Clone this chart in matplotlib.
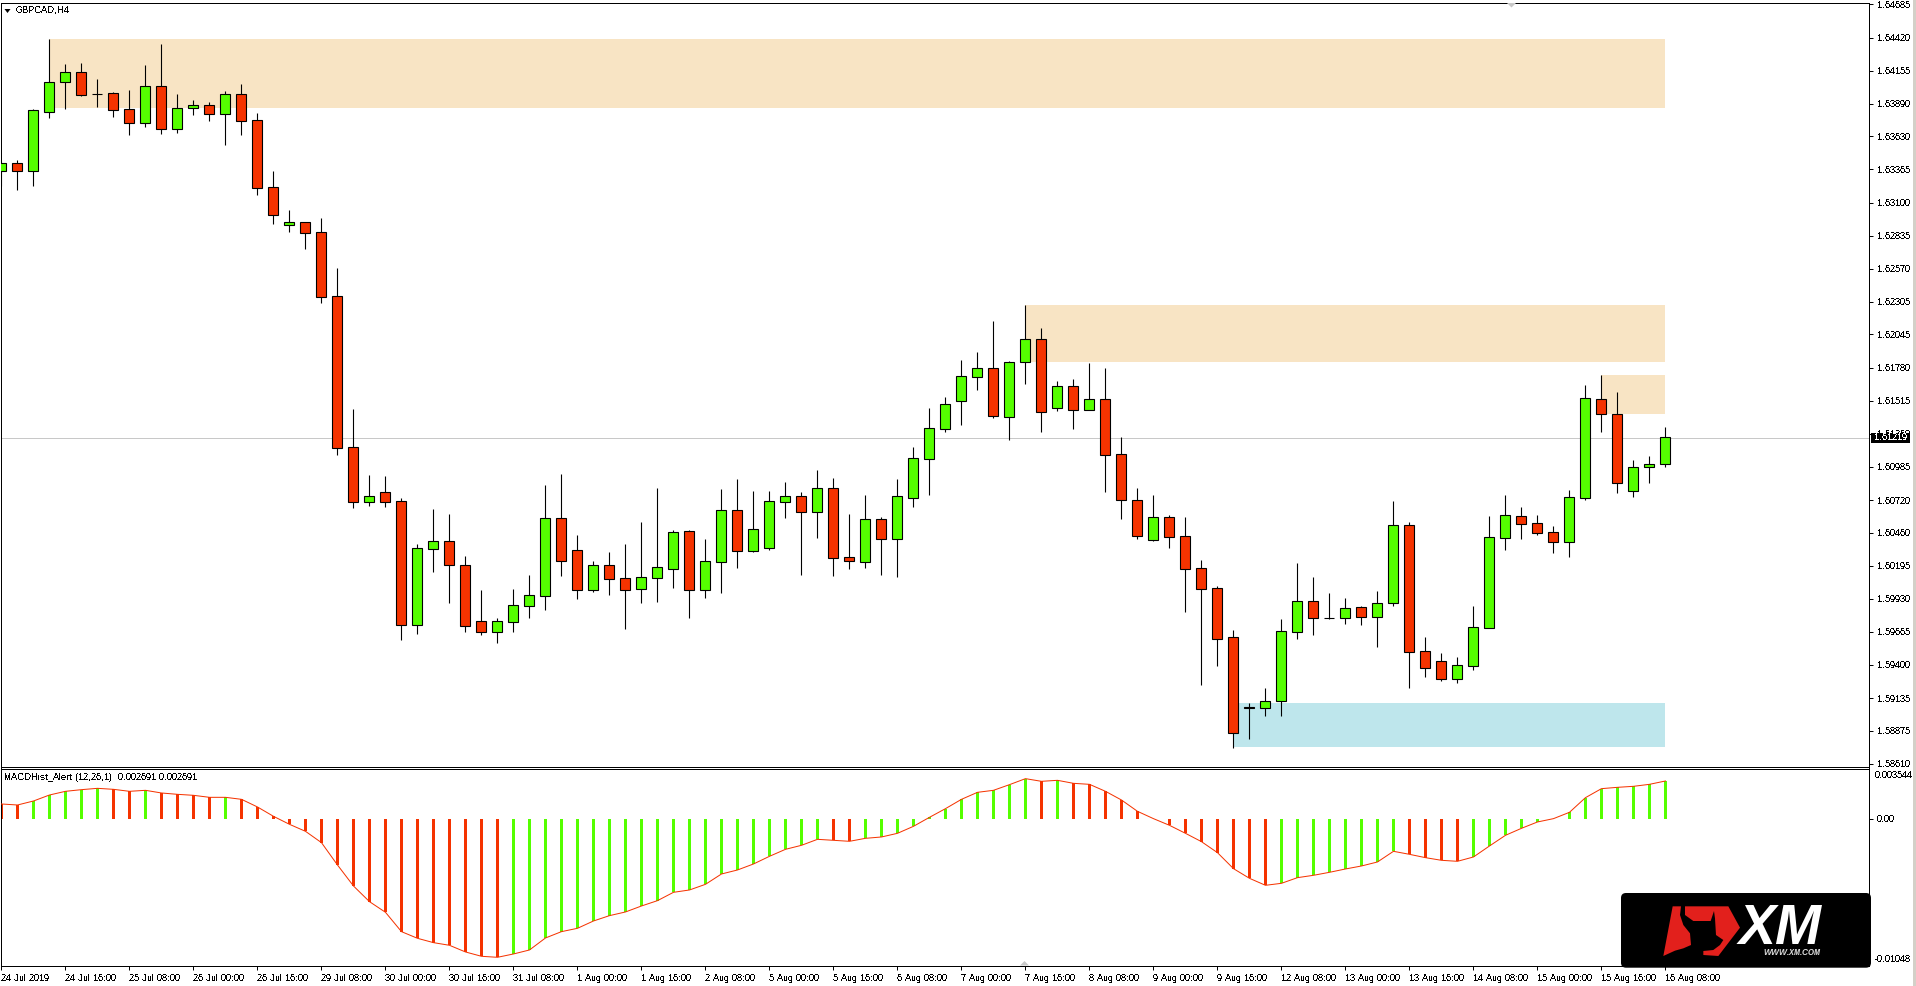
import matplotlib
matplotlib.use('Agg')
import matplotlib.pyplot as plt
from matplotlib.patches import Rectangle, FancyBboxPatch, Polygon

plt.rcParams['font.family'] = ['Liberation Sans', 'DejaVu Sans']
plt.rcParams['text.antialiased'] = False
plt.rcParams['text.hinting'] = 'native'
plt.rcParams['text.hinting_factor'] = 1

# GBPCAD H4 candles
opens = [1.63355, 1.63419, 1.63355, 1.63827, 1.64061, 1.64141, 1.63971, 1.63973, 1.63845, 1.63739,
         1.64029, 1.63691, 1.63859, 1.63877, 1.63811, 1.63965, 1.63757, 1.63221, 1.62922, 1.62941,
         1.62861, 1.62349, 1.61141, 1.60701, 1.60781, 1.60709, 1.59722, 1.60331, 1.60389, 1.60197,
         1.59749, 1.59666, 1.59746, 1.59874, 1.59954, 1.60573, 1.60317, 1.60002, 1.60197, 1.60093,
         1.60010, 1.60098, 1.60170, 1.60469, 1.60002, 1.60227, 1.60637, 1.60315, 1.60339, 1.60707,
         1.60749, 1.60627, 1.60813, 1.60261, 1.60227, 1.60565, 1.60411, 1.60739, 1.61051, 1.61291,
         1.61515, 1.61707, 1.61773, 1.61387, 1.61821, 1.62005, 1.61459, 1.61629, 1.61443, 1.61525,
         1.61085, 1.60717, 1.60402, 1.60581, 1.60429, 1.60173, 1.60013, 1.59621, 1.59061, 1.59058,
         1.59114, 1.59666, 1.59909, 1.59780, 1.59778, 1.59861, 1.59786, 1.59898, 1.60517, 1.59509,
         1.59429, 1.59290, 1.59394, 1.59698, 1.60418, 1.60589, 1.60533, 1.60461, 1.60381, 1.60733,
         1.61525, 1.61405, 1.60789, 1.60987, 1.61005]
highs = [1.63432, 1.63440, 1.63848, 1.64408, 1.64208, 1.64216, 1.64088, 1.63981, 1.64000, 1.64200,
         1.64368, 1.63968, 1.63920, 1.63901, 1.63992, 1.64048, 1.63816, 1.63352, 1.63040, 1.62941,
         1.62976, 1.62576, 1.61448, 1.60920, 1.60912, 1.60733, 1.60365, 1.60648, 1.60608, 1.60272,
         1.60000, 1.59773, 1.60008, 1.60120, 1.60840, 1.60928, 1.60440, 1.60229, 1.60304, 1.60368,
         1.60544, 1.60816, 1.60480, 1.60480, 1.60408, 1.60808, 1.60888, 1.60792, 1.60792, 1.60864,
         1.60784, 1.60960, 1.60896, 1.60608, 1.60760, 1.60584, 1.60888, 1.61144, 1.61456, 1.61544,
         1.61840, 1.61904, 1.62152, 1.61832, 1.62280, 1.62096, 1.61672, 1.61688, 1.61816, 1.61776,
         1.61224, 1.60816, 1.60760, 1.60600, 1.60584, 1.60240, 1.60032, 1.59680, 1.59096, 1.59216,
         1.59768, 1.60216, 1.60104, 1.59976, 1.59936, 1.59872, 1.59992, 1.60712, 1.60541, 1.59624,
         1.59496, 1.59464, 1.59872, 1.60592, 1.60760, 1.60664, 1.60600, 1.60512, 1.60800, 1.61640,
         1.61720, 1.61584, 1.61040, 1.61072, 1.61304]
lows = [1.63234, 1.63200, 1.63234, 1.63779, 1.63851, 1.63952, 1.63867, 1.63787, 1.63643, 1.63707,
        1.63651, 1.63659, 1.63803, 1.63755, 1.63563, 1.63643, 1.63162, 1.62930, 1.62866, 1.62730,
        1.62298, 1.61080, 1.60659, 1.60675, 1.60667, 1.59602, 1.59650, 1.60147, 1.59898, 1.59666,
        1.59642, 1.59578, 1.59666, 1.59778, 1.59842, 1.60114, 1.59928, 1.59986, 1.59960, 1.59690,
        1.59898, 1.59906, 1.60016, 1.59778, 1.59938, 1.59978, 1.60179, 1.60307, 1.60323, 1.60579,
        1.60122, 1.60419, 1.60114, 1.60170, 1.60179, 1.60122, 1.60106, 1.60667, 1.60760, 1.61267,
        1.61323, 1.61603, 1.61379, 1.61203, 1.61651, 1.61267, 1.61435, 1.61291, 1.61443, 1.60786,
        1.60570, 1.60410, 1.60394, 1.60338, 1.59826, 1.59242, 1.59392, 1.58738, 1.58810, 1.58994,
        1.58994, 1.59610, 1.59642, 1.59770, 1.59730, 1.59722, 1.59546, 1.59874, 1.59218, 1.59306,
        1.59274, 1.59258, 1.59362, 1.59698, 1.60322, 1.60410, 1.60442, 1.60298, 1.60266, 1.60720,
        1.61267, 1.60779, 1.60747, 1.60859, 1.60987]
closes = [1.63413, 1.63355, 1.63837, 1.64061, 1.64141, 1.63963, 1.63965, 1.63843, 1.63739, 1.64029,
          1.63691, 1.63853, 1.63877, 1.63811, 1.63965, 1.63755, 1.63218, 1.63003, 1.62941, 1.62858,
          1.62346, 1.61133, 1.60701, 1.60749, 1.60707, 1.59722, 1.60333, 1.60389, 1.60203, 1.59714,
          1.59666, 1.59749, 1.59877, 1.59957, 1.60573, 1.60235, 1.60002, 1.60197, 1.60090, 1.60002,
          1.60101, 1.60181, 1.60461, 1.60002, 1.60229, 1.60637, 1.60315, 1.60485, 1.60709, 1.60749,
          1.60627, 1.60813, 1.60259, 1.60235, 1.60565, 1.60411, 1.60749, 1.61053, 1.61293, 1.61485,
          1.61709, 1.61773, 1.61395, 1.61821, 1.62005, 1.61427, 1.61629, 1.61443, 1.61525, 1.61082,
          1.60722, 1.60434, 1.60581, 1.60426, 1.60170, 1.60010, 1.59610, 1.58858, 1.59056, 1.59109,
          1.59669, 1.59909, 1.59778, 1.59780, 1.59853, 1.59786, 1.59893, 1.60517, 1.59506, 1.59378,
          1.59290, 1.59397, 1.59701, 1.60421, 1.60597, 1.60525, 1.60458, 1.60381, 1.60741, 1.61533,
          1.61405, 1.60853, 1.60987, 1.61005, 1.61221]

# MACDHist_Alert values and bar colours
hist = [0.001062, 0.000991, 0.001274, 0.001699, 0.001959, 0.002077, 0.002171, 0.002100, 0.001959, 0.002030,
        0.001841, 0.001746, 0.001676, 0.001534, 0.001534, 0.001392, 0.000850, 0.000189, -0.000378, -0.000873,
        -0.001676, -0.003257, -0.004744, -0.005853, -0.006608, -0.007977, -0.008449, -0.008756, -0.008944, -0.009416,
        -0.009723, -0.009794, -0.009558, -0.009275, -0.008425, -0.007977, -0.007741, -0.007222, -0.006844, -0.006584,
        -0.006160, -0.005782, -0.005192, -0.005027, -0.004626, -0.003894, -0.003611, -0.003186, -0.002643, -0.002148,
        -0.001864, -0.001440, -0.001510, -0.001581, -0.001369, -0.001274, -0.001015, -0.000519, 0.000118, 0.000732,
        0.001392, 0.001888, 0.002030, 0.002431, 0.002856, 0.002667, 0.002738, 0.002525, 0.002454, 0.001959,
        0.001345, 0.000543, 0.000024, -0.000448, -0.001015, -0.001605, -0.002384, -0.003516, -0.004201, -0.004696,
        -0.004555, -0.004154, -0.003988, -0.003776, -0.003540, -0.003328, -0.003044, -0.002289, -0.002502, -0.002738,
        -0.002926, -0.002997, -0.002690, -0.001912, -0.001156, -0.000661, -0.000212, 0.000024, 0.000472, 0.001510,
        0.002148, 0.002242, 0.002313, 0.002454, 0.002691]
hist_kind = ('rrgggggrrg' 'rrrrgrrrrr' 'rrrrrrrrrr' 'rrgggggggg' 'gggggggggg'
             'ggrrgggggg' 'gggggrgrrr' 'rrrrrrrrrr' 'ggggggggrr' 'rrgggggggg' 'ggggg')

# shaded zones, by first candle
zone_start = [3, 64, 100, 77]
zone_top = [1.64408, 1.62280, 1.61720, 1.59096]
zone_bottom = [1.63856, 1.61824, 1.61411, 1.58746]
zone_color = ['#F8E4C4', '#F8E4C4', '#F8E4C4', '#BEE6EC']

price_ticks = [1.64685, 1.64420, 1.64155, 1.63890, 1.63630, 1.63365, 1.63100, 1.62835, 1.62570, 1.62305,
               1.62045, 1.61780, 1.61515, 1.61250, 1.60985, 1.60720, 1.60460, 1.60195, 1.59930, 1.59665,
               1.59400, 1.59135, 1.58875, 1.58610]
last_price = 1.61219

date_labels = ['24 Jul 2019', '24 Jul 16:00', '25 Jul 08:00', '26 Jul 00:00', '26 Jul 16:00', '29 Jul 08:00',
               '30 Jul 00:00', '30 Jul 16:00', '31 Jul 08:00', '1 Aug 00:00', '1 Aug 16:00', '2 Aug 08:00',
               '5 Aug 00:00', '5 Aug 16:00', '6 Aug 08:00', '7 Aug 00:00', '7 Aug 16:00', '8 Aug 08:00',
               '9 Aug 00:00', '9 Aug 16:00', '12 Aug 08:00', '13 Aug 00:00', '13 Aug 16:00', '14 Aug 08:00',
               '15 Aug 00:00', '15 Aug 16:00', '16 Aug 08:00']

RED = '#F53300'
GREEN = '#55FF00'
W, H = 1916, 986
FS = 6.5
PX = 0.72  # one pixel in points at dpi 100


def pixel_axes(left, top, right, bottom):
    return fig.add_axes([left / W, 1 - bottom / H, (right - left) / W, (bottom - top) / H])


fig = plt.figure(figsize=(W / 100, H / 100), dpi=100, facecolor='white')
x = list(range(len(opens)))
xlim = (-0.0625, 116.69)

# price panel
ax = pixel_axes(0.5, 2.5, 1868.5, 766.5)
for s, t, b, c in zip(zone_start, zone_top, zone_bottom, zone_color):
    ax.add_patch(Rectangle((s, b), x[-1] - s, t - b, facecolor=c, edgecolor='none', zorder=1))
ax.axhline(last_price, color='#C8C8C8', lw=PX, zorder=1.5)
ax.vlines(x, lows, highs, color='black', lw=PX * 1.1, zorder=2)
body_bottom = [min(o, c) for o, c in zip(opens, closes)]
body_height = [abs(o - c) for o, c in zip(opens, closes)]
body_color = [GREEN if c >= o else RED for o, c in zip(opens, closes)]
ax.bar(x, body_height, bottom=body_bottom, width=0.625, color=body_color,
       edgecolor='black', linewidth=PX * 1.1, zorder=3)
ax.set_xlim(xlim)
ax.set_ylim(1.58588, 1.64700)
ax.set_xticks([])
ax.yaxis.tick_right()
ax.set_yticks(price_ticks)
ax.set_yticklabels(['%.5f' % p for p in price_ticks])
ax.tick_params(axis='y', length=3, width=PX, pad=3, labelsize=FS)

# indicator panel
ax2 = pixel_axes(0.5, 768.5, 1868.5, 966)
hist_colors = [GREEN if k == 'g' else RED for k in hist_kind]
ax2.bar(x, hist, width=3 / 16, color=hist_colors, linewidth=0, zorder=2)
ax2.plot(x, hist, color=RED, lw=PX, zorder=3)
ax2.set_xlim(xlim)
ax2.set_ylim(-0.01041, 0.003575)
ax2.yaxis.tick_right()
ax2.set_yticks([0.00])
ax2.set_yticklabels(['0.00'])
ax2.tick_params(axis='y', length=3, width=PX, pad=3, labelsize=FS)
ax2.set_xticks(x[::4])
ax2.set_xticklabels(date_labels, ha='left')
ax2.tick_params(axis='x', length=3, width=PX, pad=3, labelsize=FS)

for a in (ax, ax2):
    for sp in a.spines.values():
        sp.set_linewidth(PX)
        sp.set_color('black')

# overlay in pixel coordinates for labels and logo
ov = fig.add_axes([0, 0, 1, 1], zorder=10)
ov.set_xlim(0, W)
ov.set_ylim(H, 0)
ov.axis('off')
ov.patch.set_alpha(0)

ov.text(15.5, 10.7, 'GBPCAD,H4', fontsize=FS, va='center', ha='left', color='black')
ov.add_patch(Polygon([(4.5, 9), (10.5, 9), (7.5, 13)], color='black', lw=0))
ov.text(4.5, 777.7, 'MACDHist_Alert (12,26,1)  0.002691 0.002691', fontsize=FS, va='center', ha='left')
ov.text(1875, 775.7, '0.003544', fontsize=FS, va='center', ha='left')
ov.text(1875, 959.3, '-0.01048', fontsize=FS, va='center', ha='left')

# last price box
ov.add_patch(Rectangle((1871, 433), 39, 9.7, facecolor='black', edgecolor='none'))
ov.text(1874.5, 437.8, '%.5f' % last_price, fontsize=FS, va='center', ha='left', color='white')

# grey markers and right edge
ov.add_patch(Polygon([(1507, 3), (1516, 3), (1511.5, 7.5)], color='#C8C8C8', lw=0))
ov.add_patch(Polygon([(1020, 965.5), (1029, 965.5), (1024.5, 961)], color='#C8C8C8', lw=0))
ov.add_patch(Rectangle((1913.5, 0), 2.5, H, facecolor='#D4D0C8', edgecolor='none'))

# XM logo
ov.add_patch(FancyBboxPatch((1625, 897), 242, 66.7, boxstyle='round,pad=4,rounding_size=5',
                            facecolor='black', edgecolor='none'))


def logo_pts(pts):
    return [(1610 + a / 3, 885 + b / 3) for a, b in pts]


ov.add_patch(Polygon(logo_pts([(188, 64), (213, 64), (210, 90), (220, 120), (240, 145), (243, 180),
                               (220, 190), (195, 197), (160, 213)]), color='#E2201C', lw=0))
ov.add_patch(Polygon(logo_pts([(225, 64), (355, 64), (390, 128), (325, 213), (280, 210), (280, 198),
                               (310, 195), (330, 180), (340, 165), (318, 150), (315, 100), (312, 78),
                               (302, 108), (250, 108), (225, 90)]), color='#E2201C', lw=0))
ov.text(1739, 944, 'XM', fontsize=40, fontweight='bold', fontstyle='italic', color='white',
        va='baseline', ha='left', antialiased=True)
ov.text(1763.5, 953, 'WWW.XM.COM', fontsize=5.7, fontweight='bold', fontstyle='italic',
        color='#DDDDDD', va='center', ha='left', antialiased=True)

fig.savefig('out.png', dpi=100)
